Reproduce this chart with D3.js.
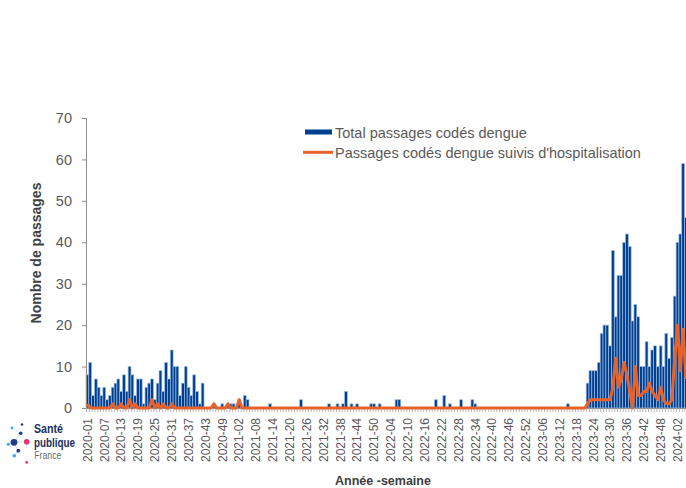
<!DOCTYPE html>
<html>
<head>
<meta charset="utf-8">
<script src="https://cdn.jsdelivr.net/npm/d3@7/dist/d3.min.js"></script>
<style>
  html, body { margin: 0; padding: 0; background: #fff; }
  svg { display: block; font-family: "Liberation Sans", Arial, sans-serif; }
</style>
</head>
<body>
<svg id="chart" width="686" height="488"></svg>
<script>
// ---- Data ----
const years = [2020, 2021, 2022, 2023, 2024];
const weeksInYear = [53, 52, 52, 52, 5];

const totalPassages = [
  8,11,3,7,5,3,5,2,3,5,6,7,4,8,4,10,8,3,7,7,
  1,5,6,7,2,6,9,4,11,7,14,10,10,3,6,10,5,3,8,4,
  1,6,0,0,0,1,0,0,1,0,1,1,1,0,2,0,3,2,0,0,
  0,0,0,0,0,1,0,0,0,0,0,0,0,0,0,0,2,0,0,0,
  0,0,0,0,0,0,1,0,0,1,0,1,4,0,1,0,1,0,0,0,
  0,1,1,0,1,0,0,0,0,0,2,2,0,0,0,0,0,0,0,0,
  0,0,0,0,2,0,0,3,0,1,0,0,0,2,0,0,0,2,1,0,
  0,0,0,0,0,0,0,0,0,0,0,0,0,0,0,0,0,0,0,0,
  0,0,0,0,0,0,0,0,0,0,0,1,0,0,0,0,0,0,6,9,
  9,9,11,18,20,20,15,38,22,32,32,40,42,39,21,25,22,10,10,16,
  10,14,15,10,15,10,18,12,17,27,40,42,59,46
];

const hospPassages = [
  1,0,0,0,0,0,0,0,0,1,0,0,1,0,0,2,0,1,0,0,
  0,0,0,2,0,1,0,1,0,0,1,0,0,0,0,0,0,0,0,0,
  0,0,0,0,0,1,0,0,0,0,1,0,0,0,2,0,0,0,0,0,
  0,0,0,0,0,0,0,0,0,0,0,0,0,0,0,0,0,0,0,0,
  0,0,0,0,0,0,0,0,0,0,0,0,0,0,0,0,0,0,0,0,
  0,0,0,0,0,0,0,0,0,0,0,0,0,0,0,0,0,0,0,0,
  0,0,0,0,0,0,0,0,0,0,0,0,0,0,0,0,0,0,0,0,
  0,0,0,0,0,0,0,0,0,0,0,0,0,0,0,0,0,0,0,0,
  0,0,0,0,0,0,0,0,0,0,0,0,0,0,0,0,0,0,1,2,
  2,2,2,2,2,2,2,5,12,5,7,11,8,4,0,10,3,3,4,4,
  6,4,3,2,5,2,1,1,2,12,20,9,19,7
];

const yTicks = [0, 10, 20, 30, 40, 50, 60, 70];
const labelEvery = 6;
const seriesNames = ["Total passages codés dengue", "Passages codés dengue suivis d'hospitalisation"];

// week labels "YYYY-WW"
const weeks = [];
years.forEach((yr, k) => {
  for (let w = 1; w <= weeksInYear[k]; w++) weeks.push(yr + "-" + String(w).padStart(2, "0"));
});

// ---- Layout ----
const svg = d3.select("#chart");
const plotLeft = 86, plotBottom = 408, plotTop = 118;
const step = 2.81;
const N = weeks.length;

const x = d3.scaleBand().domain(weeks).range([plotLeft, plotLeft + step * N]).padding(0);
const y = d3.scaleLinear().domain([0, 70]).range([plotBottom, plotTop]);
const bw = x.bandwidth();

const blue = "#003F8F", blueEdge = "#9DBCE0", orange = "#E8622A", gray = "#595959", axisGray = "#8C8C8C";

// bars
svg.append("g").selectAll("rect")
  .data(weeks.map((w, i) => ({ w, v: totalPassages[i] })).filter(d => d.v > 0))
  .join("rect")
  .attr("x", d => x(d.w))
  .attr("y", d => y(d.v))
  .attr("width", bw)
  .attr("height", d => y(0) - y(d.v))
  .attr("fill", blue)
  .attr("stroke", blueEdge)
  .attr("stroke-width", 0.7);

// y axis
const yAxis = svg.append("g")
  .attr("transform", `translate(${plotLeft},0)`)
  .call(d3.axisLeft(y).tickValues(yTicks).tickSize(4).tickPadding(10));
yAxis.select(".domain").attr("stroke", axisGray);
yAxis.selectAll(".tick line").attr("stroke", axisGray);
yAxis.selectAll(".tick text").attr("fill", gray).style("font-size", "14.5px")
  .style("font-family", "'Liberation Sans', Arial, sans-serif");

// x axis (labels)
const xAxis = svg.append("g")
  .attr("transform", `translate(0,${plotBottom})`)
  .call(d3.axisBottom(x).tickValues(weeks.filter((w, i) => i % labelEvery === 0)).tickSize(0).tickPadding(0));
xAxis.select(".domain").attr("stroke", axisGray).attr("d", `M${plotLeft},0.5H${plotLeft + step * N}`);
xAxis.selectAll(".tick text")
  .attr("fill", gray)
  .style("font-size", "12px")
  .style("font-family", "'Liberation Sans', Arial, sans-serif")
  .attr("text-anchor", "end")
  .attr("transform", "rotate(-90)")
  .attr("x", -10)
  .attr("y", 0)
  .attr("dy", "0.36em");

// weekly tick marks at category boundaries
svg.append("g").selectAll("line")
  .data(weeks)
  .join("line")
  .attr("x1", d => x(d) + 0.5).attr("x2", d => x(d) + 0.5)
  .attr("y1", plotBottom).attr("y2", plotBottom + 4)
  .attr("stroke", "#A6A6A6").attr("stroke-width", 0.8);

// hospitalisation line
const line = d3.line()
  .x((v, i) => x(weeks[i]) + bw / 2)
  .y(v => y(v));
svg.append("path")
  .datum(hospPassages)
  .attr("d", line)
  .attr("fill", "none")
  .attr("stroke", orange)
  .attr("stroke-width", 3)
  .attr("stroke-linejoin", "round");

// axis titles
svg.append("text")
  .attr("transform", "translate(41,253) rotate(-90)")
  .attr("text-anchor", "middle")
  .attr("fill", "#404040")
  .style("font-size", "14px").style("font-weight", "bold")
  .text("Nombre de passages");

svg.append("text")
  .attr("x", 383).attr("y", 484.5)
  .attr("text-anchor", "middle")
  .attr("fill", "#404040")
  .style("font-size", "12.5px").style("font-weight", "bold")
  .text("Année -semaine");

// legend
const lg = svg.append("g");
lg.append("rect").attr("x", 305).attr("y", 129.5).attr("width", 27).attr("height", 5).attr("fill", blue);
lg.append("text").attr("x", 335).attr("y", 137.5).attr("fill", gray).style("font-size", "14.5px").text(seriesNames[0]);
lg.append("line").attr("x1", 303).attr("x2", 333).attr("y1", 152.3).attr("y2", 152.3)
  .attr("stroke", orange).attr("stroke-width", 3);
lg.append("text").attr("x", 335).attr("y", 157.5).attr("fill", gray).style("font-size", "14.5px").text(seriesNames[1]);

// logo (Santé publique France)
const logo = svg.append("g");
const navy = "#1F3C88", pink = "#E4336E", sky = "#3FA9F5";
const links = [[14,442.3,20.7,433.3],[14,442.3,26.7,441.7],[14,442.3,18.3,450.7],[14,442.3,8.3,444.3],[18.3,450.7,14.3,455.7],[12,428,20.7,433.3],[26.7,441.7,26.7,448]];
logo.selectAll("line").data(links).join("line")
  .attr("x1", d => d[0]).attr("y1", d => d[1]).attr("x2", d => d[2]).attr("y2", d => d[3])
  .attr("stroke", "#C9D3E8").attr("stroke-width", 0.7);
const dots = [[14,442.3,3.4,navy],[26.7,441.7,2.8,pink],[20.7,433.3,1.8,navy],[18.3,450.7,1.9,navy],
              [14.3,455.7,1.8,sky],[8.3,444.3,1.6,sky],[26.7,462.3,1.4,pink],[12,428,1.4,sky],[22,424.5,1.3,navy]];
logo.selectAll("circle").data(dots).join("circle")
  .attr("cx", d => d[0]).attr("cy", d => d[1]).attr("r", d => d[2]).attr("fill", d => d[3]);
logo.append("text").attr("x", 34).attr("y", 433).attr("fill", "#1B2F5E")
  .style("font-size", "12px").style("font-weight", "bold")
  .attr("textLength", 29).attr("lengthAdjust", "spacingAndGlyphs").text("Santé");
logo.append("text").attr("x", 34).attr("y", 446.5).attr("fill", "#1B2F5E")
  .style("font-size", "12px").style("font-weight", "bold")
  .attr("textLength", 41).attr("lengthAdjust", "spacingAndGlyphs").text("publique");
logo.append("text").attr("x", 34.3).attr("y", 459).attr("fill", "#6B6B6B")
  .style("font-size", "11px")
  .attr("textLength", 27).attr("lengthAdjust", "spacingAndGlyphs").text("France");
</script>
</body>
</html>
